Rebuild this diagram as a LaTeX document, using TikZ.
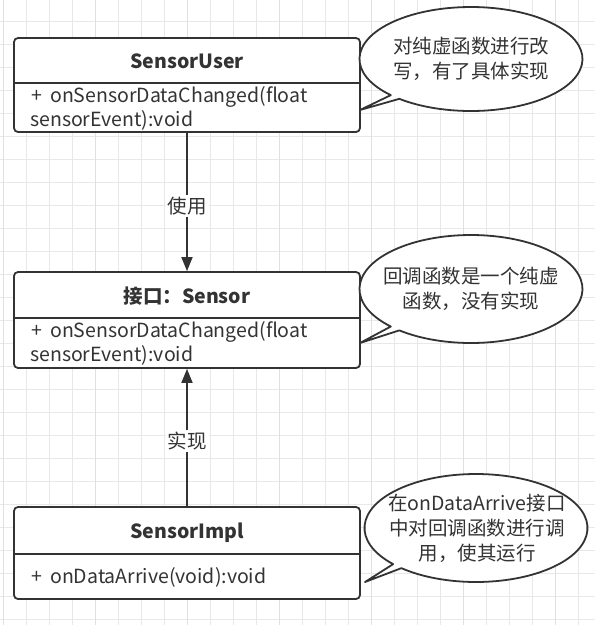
\documentclass[tikz,border=0pt]{standalone}
\usepackage{fontspec}
\setmainfont{Noto Sans CJK SC}
\usetikzlibrary{arrows.meta}
\definecolor{ink}{HTML}{333333}
\definecolor{gridc}{HTML}{E8E8E8}
\definecolor{gridd}{HTML}{E0E0E0}
\newcommand{\plussp}{+\hspace{0.42em}}
\tikzset{
  umlbox/.style={draw=ink, line width=1.8pt, rounded corners=4pt, fill=white, minimum width=346pt, inner sep=0pt},
  divider/.style={draw=ink, line width=1.8pt},
  title/.style={anchor=base, font=\fontsize{19.5}{24}\selectfont\bfseries, text=ink, inner sep=0pt},
  body/.style={anchor=base west, font=\fontsize{19.5}{24}\selectfont, text=ink, inner sep=0pt},
  btext/.style={anchor=base, font=\fontsize{19.5}{25}\selectfont, text=ink, inner sep=0pt},
  bubble/.style={draw=ink, line width=1.8pt, fill=white, line join=round},
  arr/.style={draw=ink, line width=1.8pt, -{Triangle[length=14pt, width=11pt]}},
  lbl/.style={fill=white, text=ink, font=\fontsize{19.5}{24}\selectfont, inner sep=2pt},
}
\begin{document}
\begin{tikzpicture}[x=1pt, y=-1pt]
\useasboundingbox (0,0) rectangle (595,625);
\fill[white] (0,0) rectangle (595,625);
% grid
\foreach \k in {0,...,25} {
  \draw[gridc, line width=0.8pt] (3+23*\k,0) -- (3+23*\k,625);
}
\foreach \k in {0,...,26} {
  \draw[gridc, line width=0.8pt] (0,21+23*\k) -- (595,21+23*\k);
}
\foreach \k in {0,4,...,24} {
  \draw[gridd, line width=1pt] (3+23*\k,0) -- (3+23*\k,625);
}

% Box 1: SensorUser
\node[umlbox, minimum height=94pt] (user) at (187,85) {};
\draw[divider] (14,83) -- (360,83);
\node[title] (usert) at (187,68) {SensorUser};
\node[body] (userb1) at (31,102) {\plussp onSensorDataChanged(float};
\node[body] (userb2) at (30,126) {sensorEvent):void};

% Box 2: Sensor
\node[umlbox, minimum height=96pt] (sensor) at (187,320) {};
\draw[divider] (14,318) -- (360,318);
\node[title] (sensort) at (187,303) {接口：Sensor};
\node[body] (sensorb1) at (31,337) {\plussp onSensorDataChanged(float};
\node[body] (sensorb2) at (30,361) {sensorEvent):void};

% Box 3: SensorImpl
\node[umlbox, minimum height=92pt] (impl) at (187,553) {};
\draw[divider] (14,554) -- (360,554);
\node[title] (implt) at (187,538) {SensorImpl};
\node[body] (implb1) at (31,583) {\plussp onDataArrive(void):void};

% connectors
\draw[arr] (user.south) -- node[lbl, pos=0.53] (use) {使用} (sensor.north);
\draw[arr] (impl.north) -- node[lbl, pos=0.475] (real) {实现} (sensor.south);

% Bubble 1
\coordinate (c1) at (471,59);
\draw[bubble] (c1) ++(136:111.5 and 52) arc[start angle=136, end angle=490, x radius=111.5, y radius=52] -- (360,110) -- cycle;
\node[btext] (n1a) at (471,53) {对纯虚函数进行改};
\node[btext] (n1b) at (471,78) {写，有了具体实现};

% Bubble 2
\coordinate (c2) at (471,289);
\draw[bubble] (c2) ++(136:111.5 and 54) arc[start angle=136, end angle=490, x radius=111.5, y radius=54] -- (360,343) -- cycle;
\node[btext] (n2a) at (471,283) {回调函数是一个纯虚};
\node[btext] (n2b) at (471,308) {函数，没有实现};

% Bubble 3
\coordinate (c3) at (476,528);
\draw[bubble] (c3) ++(138:111.5 and 54) arc[start angle=138, end angle=492, x radius=111.5, y radius=54] -- (365,582) -- cycle;
\node[btext] (n3a) at (477,510) {在onDataArrive接口};
\node[btext] (n3b) at (477,535) {中对回调函数进行调};
\node[btext] (n3c) at (477,560) {用，使其运行};
\end{tikzpicture}
\end{document}
